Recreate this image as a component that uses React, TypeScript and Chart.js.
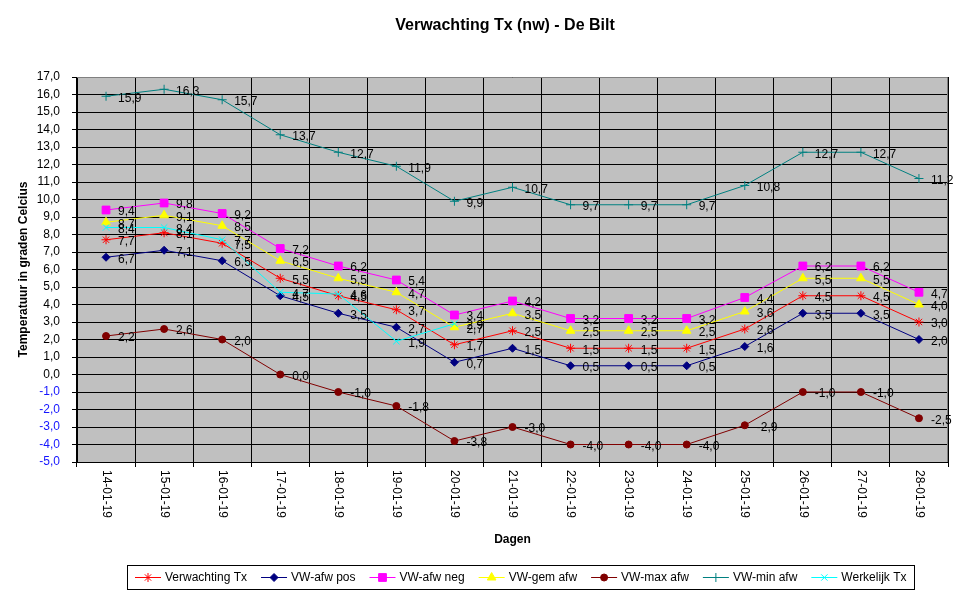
import React, { useEffect, useRef } from 'react';
import { Chart, registerables } from 'chart.js';
import { drawPoint } from 'chart.js/helpers';

Chart.register(...registerables);

const FONT = '"Liberation Sans", Arial, sans-serif';

const categories = [
  '14-01-19', '15-01-19', '16-01-19', '17-01-19', '18-01-19', '19-01-19', '20-01-19', '21-01-19',
  '22-01-19', '23-01-19', '24-01-19', '25-01-19', '26-01-19', '27-01-19', '28-01-19',
];

const verwachtingTx = [7.7, 8.1, 7.5, 5.5, 4.5, 3.7, 1.7, 2.5, 1.5, 1.5, 1.5, 2.6, 4.5, 4.5, 3.0];
const vwAfwPos = [6.7, 7.1, 6.5, 4.5, 3.5, 2.7, 0.7, 1.5, 0.5, 0.5, 0.5, 1.6, 3.5, 3.5, 2.0];
const vwAfwNeg = [9.4, 9.8, 9.2, 7.2, 6.2, 5.4, 3.4, 4.2, 3.2, 3.2, 3.2, 4.4, 6.2, 6.2, 4.7];
const vwGemAfw = [8.7, 9.1, 8.5, 6.5, 5.5, 4.7, 2.7, 3.5, 2.5, 2.5, 2.5, 3.6, 5.5, 5.5, 4.0];
const vwMaxAfw = [2.2, 2.6, 2.0, 0.0, -1.0, -1.8, -3.8, -3.0, -4.0, -4.0, -4.0, -2.9, -1.0, -1.0, -2.5];
const vwMinAfw = [15.9, 16.3, 15.7, 13.7, 12.7, 11.9, 9.9, 10.7, 9.7, 9.7, 9.7, 10.8, 12.7, 12.7, 11.2];
const werkelijkTx = [8.4, 8.4, 7.7, 4.7, 4.6, 1.9, 2.9, null, null, null, null, null, null, null, null];

const seriesNames = ['Verwachting Tx', 'VW-afw pos', 'VW-afw neg', 'VW-gem afw', 'VW-max afw', 'VW-min afw', 'Werkelijk Tx'];
const seriesData = [verwachtingTx, vwAfwPos, vwAfwNeg, vwGemAfw, vwMaxAfw, vwMinAfw, werkelijkTx];

const yMin = -5;
const yMax = 17;
const yStep = 1;

const TITLE = 'Verwachting Tx (nw) - De Bilt';
const X_TITLE = 'Dagen';
const Y_TITLE = 'Temperatuur in graden Celcius';

const styles = [
  { color: '#FF0000', fill: '#FF0000', pointStyle: 'star', radius: 4.5 },
  { color: '#000080', fill: '#000080', pointStyle: 'rectRot', radius: 4 },
  { color: '#FF00FF', fill: '#FF00FF', pointStyle: 'rect', radius: 5.5 },
  { color: '#FFFF00', fill: '#FFFF00', pointStyle: 'triangle', radius: 5 },
  { color: '#800000', fill: '#800000', pointStyle: 'circle', radius: 3.5 },
  { color: '#008080', fill: '#008080', pointStyle: 'cross', radius: 4.5 },
  { color: '#00FFFF', fill: '#00FFFF', pointStyle: 'crossRot', radius: 4.5 },
];

const fmt = (v: number) => v.toFixed(1).replace('.', ',');

const decorPlugin = {
  id: 'decor',
  beforeDraw(chart: any) {
    const { ctx, chartArea: a } = chart;
    ctx.save();
    ctx.fillStyle = '#C0C0C0';
    ctx.fillRect(a.left, a.top, a.right - a.left, a.bottom - a.top);
    ctx.restore();
  },
  beforeDatasetsDraw(chart: any) {
    const { ctx, chartArea: a } = chart;
    ctx.save();
    ctx.strokeStyle = '#808080';
    ctx.lineWidth = 1;
    ctx.beginPath();
    const t = Math.round(a.top) + 0.5;
    const r = Math.round(a.right) - 0.5;
    ctx.moveTo(a.left, t);
    ctx.lineTo(r, t);
    ctx.lineTo(r, a.bottom);
    ctx.stroke();
    ctx.restore();
  },
  afterDatasetsDraw(chart: any) {
    const { ctx } = chart;
    ctx.save();
    ctx.font = `12px ${FONT}`;
    ctx.fillStyle = '#000';
    ctx.textAlign = 'left';
    ctx.textBaseline = 'middle';
    chart.data.datasets.forEach((ds: any, i: number) => {
      const meta = chart.getDatasetMeta(i);
      meta.data.forEach((pt: any, j: number) => {
        const v = ds.data[j];
        if (v == null) return;
        ctx.fillText(fmt(v), pt.x + 12, pt.y + 2);
      });
    });
    ctx.restore();
  },
  afterDraw(chart: any) {
    const { ctx, chartArea: a } = chart;
    const xs = chart.scales.x;
    ctx.save();
    // title
    ctx.font = `bold 16px ${FONT}`;
    ctx.fillStyle = '#000';
    ctx.textAlign = 'center';
    ctx.textBaseline = 'middle';
    ctx.fillText(TITLE, 505, 26);

    // rotated x tick labels (reading top to bottom)
    ctx.font = `12px ${FONT}`;
    ctx.textAlign = 'left';
    ctx.textBaseline = 'middle';
    chart.data.labels.forEach((lab: string, i: number) => {
      const x = xs.getPixelForValue(i);
      ctx.save();
      ctx.translate(x, a.bottom + 8);
      ctx.rotate(Math.PI / 2);
      ctx.fillText(lab, 0, 0);
      ctx.restore();
    });

    // legend
    const items = chart.data.datasets;
    ctx.font = `12px ${FONT}`;
    const lineW = 26;
    const gapA = 4;
    const gapB = 14;
    const pad = 8;
    let total = pad * 2 - gapB;
    items.forEach((ds: any) => {
      total += lineW + gapA + ctx.measureText(ds.label).width + gapB;
    });
    const cx = 521;
    const cy = 577;
    const h = 24;
    const left = Math.round(cx - total / 2);
    ctx.strokeStyle = '#000';
    ctx.lineWidth = 1;
    ctx.strokeRect(left + 0.5, Math.round(cy - h / 2) + 0.5, Math.round(total), h);
    let x = left + pad;
    items.forEach((ds: any) => {
      ctx.strokeStyle = ds.borderColor;
      ctx.lineWidth = 1;
      ctx.beginPath();
      ctx.moveTo(x, cy + 0.5);
      ctx.lineTo(x + lineW, cy + 0.5);
      ctx.stroke();
      ctx.fillStyle = ds.pointBackgroundColor;
      ctx.strokeStyle = ds.borderColor;
      drawPoint(ctx, { pointStyle: ds.pointStyle, radius: ds.pointRadius, borderWidth: 1, rotation: 0 } as any, x + lineW / 2, cy + 0.5);
      ctx.fillStyle = '#000';
      ctx.textAlign = 'left';
      ctx.textBaseline = 'middle';
      ctx.fillText(ds.label, x + lineW + gapA, cy + 1);
      x += lineW + gapA + ctx.measureText(ds.label).width + gapB;
    });
    ctx.restore();
  },
};

export default function App() {
  const ref = useRef<HTMLCanvasElement | null>(null);

  useEffect(() => {
    if (!ref.current) return;
    Chart.defaults.font.family = FONT;
    Chart.defaults.font.size = 12;
    Chart.defaults.color = '#000';

    const datasets = seriesNames.map((name, i) => ({
      label: name,
      data: seriesData[i],
      borderColor: styles[i].color,
      backgroundColor: styles[i].fill,
      pointBackgroundColor: styles[i].fill,
      pointBorderColor: styles[i].color,
      pointStyle: styles[i].pointStyle,
      pointRadius: styles[i].radius,
      pointBorderWidth: 1,
      borderWidth: 1,
      fill: false,
      tension: 0,
      spanGaps: false,
      order: seriesNames.length - i,
    }));

    const chart = new Chart(ref.current, {
      type: 'line',
      data: { labels: categories, datasets },
      options: {
        animation: false,
        responsive: false,
        devicePixelRatio: 1,
        events: [],
        layout: { padding: { top: 77, right: 27, bottom: 45, left: 0 } },
        plugins: {
          legend: { display: false },
          title: { display: false },
          tooltip: { enabled: false },
        },
        scales: {
          x: {
            type: 'category',
            offset: true,
            grid: { offset: true, color: '#000', lineWidth: 1, drawTicks: true, tickLength: 5, tickColor: '#000' },
            border: { color: '#000', width: 1 },
            ticks: { display: false },
            title: {
              display: true,
              text: X_TITLE,
              font: { family: FONT, size: 12, weight: 'bold' },
              color: '#000',
              padding: { top: 0, bottom: 5 },
            },
            afterFit: (s: any) => { s.height = 90; },
          },
          y: {
            type: 'linear',
            min: yMin,
            max: yMax,
            grid: { color: '#000', lineWidth: 1, drawTicks: true, tickLength: 5, tickColor: '#000' },
            border: { color: '#000', width: 1 },
            ticks: {
              stepSize: yStep,
              autoSkip: false,
              padding: 12,
              font: { family: FONT, size: 12 },
              color: (c: any) => (c.tick && c.tick.value < 0 ? '#1515FF' : '#000'),
              callback: (v: any) => fmt(Number(v)),
            },
            title: {
              display: true,
              text: Y_TITLE,
              font: { family: FONT, size: 12, weight: 'bold' },
              color: '#000',
              padding: { top: 16, bottom: 0 },
            },
            afterFit: (s: any) => { s.width = 77; },
          },
        },
      } as any,
      plugins: [decorPlugin],
    });
    return () => chart.destroy();
  }, []);

  return (
    <div style={{ position: 'absolute', left: 0, top: 0, width: 975, height: 597, background: '#fff' }}>
      <canvas ref={ref} width={975} height={597} style={{ display: 'block', width: 975, height: 597 }} />
    </div>
  );
}
